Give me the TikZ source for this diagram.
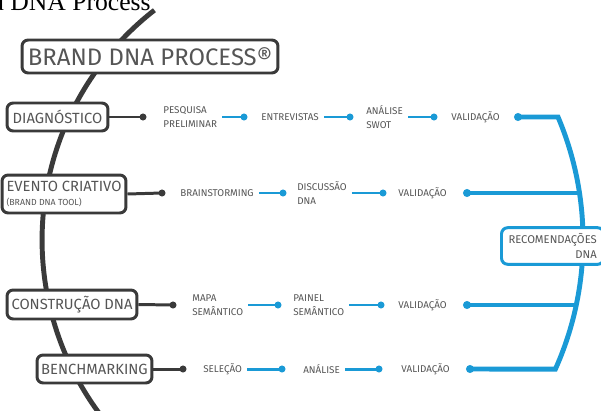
\documentclass[tikz,border=0pt]{standalone}
\usepackage{fontspec}
\setmainfont{Liberation Serif}
\newfontfamily\labelfont{Fira Sans}
\definecolor{darkline}{HTML}{3A3A3A}
\definecolor{labelgray}{HTML}{555555}
\definecolor{dnablue}{HTML}{1A9AD6}

\begin{document}
\begin{tikzpicture}[x=0.02cm, y=0.02cm,
	stagebox/.style={draw=darkline, line width=1.7pt, rounded corners=3.5pt, fill=white, text=labelgray, inner sep=0pt, font=\labelfont\fontsize{8.4}{10}\selectfont},
	steptext/.style={anchor=west, align=left, inner sep=0pt, text=labelgray, font=\labelfont\fontsize{5.6}{7.6}\selectfont},
	blackline/.style={draw=darkline, line width=1.7pt},
	blueline/.style={draw=dnablue, line width=1.7pt, shorten <=2.8pt},
	bluethick/.style={draw=dnablue, line width=2.8pt},
]

	\useasboundingbox (0,0) rectangle (601,410);

	\node [anchor=base east, inner sep=0pt, font=\fontsize{14.6}{16}\selectfont] (caption) at (151,399) {Brand DNA Process};

	% spine
	\draw [darkline, line width=2.8pt] (333.3,170) ++(127.9:5.826cm) arc [start angle=127.9, end angle=218, radius=5.826cm];

	% blue arc
	\coordinate (a1) at (558,293);
	\coordinate (a2) at (579.5,217);
	\coordinate (a3) at (576.2,105);
	\coordinate (a4) at (555.4,41);

	\coordinate (v1) at (518,293);
	\coordinate (v2) at (467,217);
	\coordinate (v3) at (467,105);
	\coordinate (v4) at (470,41);

	\draw [bluethick] (v1) -- (a1) arc [start angle=23, end angle=-24.2, radius=6.3cm] -- (v4);
	\draw [bluethick] (v2) -- (a2);
	\draw [bluethick] (v3) -- (a3);

	\node [draw=dnablue, line width=1.7pt, rounded corners=3.5pt, fill=white, anchor=west, minimum height=0.72cm, align=right, inner xsep=4pt, text=labelgray, font=\labelfont\fontsize{6.4}{8.4}\selectfont] (recom) at (500,164) {RECOMENDAÇÕES\\DNA};

	% stages
	\node [stagebox, minimum width=5.12cm, minimum height=0.66cm, font=\labelfont\fontsize{13.6}{16}\selectfont] (brand) at (150,353.5) {BRAND DNA PROCESS®};
	\node [stagebox, minimum width=2.02cm, minimum height=0.56cm] (diag) at (57.5,293) {DIAGNÓSTICO};
	\node [stagebox, minimum width=2.48cm, minimum height=0.76cm, align=left] (evento) at (64,216) {EVENTO CRIATIVO\\[-2pt]{\fontsize{5}{6}\selectfont (BRAND DNA TOOL)}};
	\node [stagebox, minimum width=2.6cm, minimum height=0.58cm] (constr) at (72,105.5) {CONSTRUÇÃO DNA};
	\node [stagebox, minimum width=2.3cm, minimum height=0.56cm] (bench) at (94.5,41) {BENCHMARKING};

	\coordinate (k1) at (143,293);
	\coordinate (k2) at (162,217);
	\coordinate (k3) at (173,105);
	\coordinate (k4) at (183,41);

	\draw [blackline] (diag.east) -- (k1);
	\draw [blackline] (evento.east) -- (k2);
	\draw [blackline] (constr.east) -- (k3);
	\draw [blackline] (bench.east) -- (k4);

	% steps
	\node [steptext] (t11) at (163,293) {PESQUISA\\PRELIMINAR};
	\node [steptext] (t12) at (261,293) {ENTREVISTAS};
	\node [steptext] (t13) at (366,293) {ANÁLISE\\SWOT};
	\node [steptext] (t14) at (451,293) {VALIDAÇÃO};

	\node [steptext] (t21) at (180,217) {BRAINSTORMING};
	\node [steptext] (t22) at (297,217) {DISCUSSÃO\\DNA};
	\node [steptext] (t23) at (398,217) {VALIDAÇÃO};

	\node [steptext] (t31) at (192,105) {MAPA\\SEMÂNTICO};
	\node [steptext] (t32) at (293,105) {PAINEL\\SEMÂNTICO};
	\node [steptext] (t33) at (398,105) {VALIDAÇÃO};

	\node [steptext] (t41) at (203,41) {SELEÇÃO};
	\node [steptext] (t42) at (303,41) {ANÁLISE};
	\node [steptext] (t43) at (401,41) {VALIDAÇÃO};

	\coordinate (b11) at (244,293);
	\coordinate (b12) at (350,293);
	\coordinate (b13) at (434,293);
	\coordinate (b21) at (283,217);
	\coordinate (b22) at (383,217);
	\coordinate (b31) at (278,105);
	\coordinate (b32) at (381,105);
	\coordinate (b41) at (282,41);
	\coordinate (b42) at (379,41);

	\draw [blueline] (t11.east) -- (b11);
	\draw [blueline] (t12.east) -- (b12);
	\draw [blueline] (t13.east) -- (b13);
	\draw [blueline] (t21.east) -- (b21);
	\draw [blueline] (t22.east) -- (b22);
	\draw [blueline] (t31.east) -- (b31);
	\draw [blueline] (t32.east) -- (b32);
	\draw [blueline] (t41.east) -- (b41);
	\draw [blueline] (t42.east) -- (b42);

	\foreach \point in {k1,k2,k3,k4} \fill [darkline] (\point) circle (2pt);
	\foreach \point in {b11,b12,b13,b21,b22,b31,b32,b41,b42} \fill [dnablue] (\point) circle (2pt);
	\foreach \point in {v1,v2,v3,v4} \fill [dnablue] (\point) circle (2.3pt);

\end{tikzpicture}
\end{document}
